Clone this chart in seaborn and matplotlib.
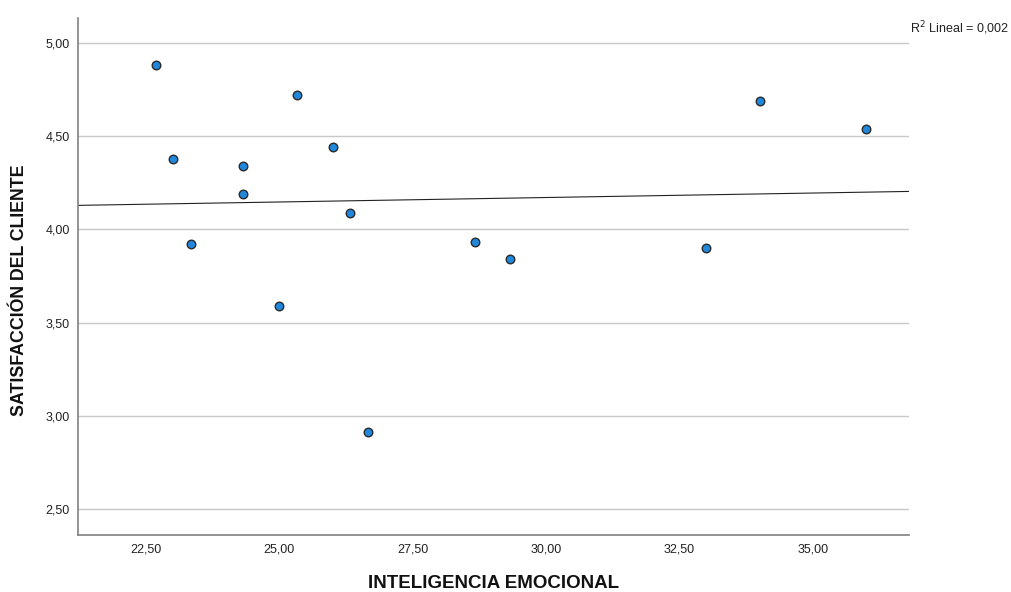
import numpy as np
import pandas as pd
import matplotlib
matplotlib.use("Agg")
import matplotlib.pyplot as plt
import seaborn as sns
from matplotlib.ticker import FuncFormatter

# Puntuaciones por participante
inteligencia = [22.69, 23.00, 23.34, 24.33, 24.33, 25.00, 25.34, 26.00,
                26.33, 26.67, 28.67, 29.33, 33.00, 34.00, 36.00]
satisfaccion = [4.88, 4.38, 3.92, 4.34, 4.19, 3.59, 4.72, 4.44,
                4.09, 2.91, 3.93, 3.84, 3.90, 4.69, 4.54]

x_ticks = [22.5, 25.0, 27.5, 30.0, 32.5, 35.0]
y_ticks = [2.5, 3.0, 3.5, 4.0, 4.5, 5.0]
r2_label = "R$^2$ Lineal = 0,002"

df = pd.DataFrame({"INTELIGENCIA EMOCIONAL": inteligencia,
                   "SATISFACCIÓN DEL CLIENTE": satisfaccion})

sns.set_theme(style="white")
plt.rcParams["font.family"] = ["Liberation Sans", "DejaVu Sans"]

fig = plt.figure(figsize=(10.11, 5.92), dpi=100)
ax = fig.add_axes([0.0772, 0.0963, 0.8219, 0.8733])
ax.set_xlim(21.23, 36.8)
ax.set_ylim(2.36, 5.134)

ax.yaxis.grid(True, color="#c8c8c8", linewidth=1.0)
ax.set_axisbelow(True)

sns.regplot(data=df, x="INTELIGENCIA EMOCIONAL", y="SATISFACCIÓN DEL CLIENTE",
            ax=ax, ci=None, truncate=False,
            scatter_kws=dict(s=38, color="#1f88dd", edgecolor="#2a2a2a",
                             linewidths=1.0, alpha=1, zorder=3),
            line_kws=dict(color="#222222", linewidth=0.8, zorder=2))
ax.set_xlim(21.23, 36.8)
ax.set_ylim(2.36, 5.134)

comma = FuncFormatter(lambda v, p: f"{v:.2f}".replace(".", ","))
ax.set_xticks(x_ticks)
ax.set_yticks(y_ticks)
ax.xaxis.set_major_formatter(comma)
ax.yaxis.set_major_formatter(comma)
ax.tick_params(axis="both", length=0, labelsize=9, colors="#222222", pad=6)

for side in ("top", "right"):
    ax.spines[side].set_visible(False)
for side in ("left", "bottom"):
    ax.spines[side].set_color("#808080")
    ax.spines[side].set_linewidth(1.2)

ax.set_xlabel("INTELIGENCIA EMOCIONAL", fontsize=13.5, fontweight="bold",
              color="#111111", labelpad=14)
ax.set_ylabel("SATISFACCIÓN DEL CLIENTE", fontsize=12.8, fontweight="bold",
              color="#111111")
ax.yaxis.set_label_coords(-0.06, 0.474)

fig.text(0.9, 0.937, r2_label, fontsize=9, color="#222222", ha="left", va="bottom")

fig.savefig("out.png", dpi=100)
